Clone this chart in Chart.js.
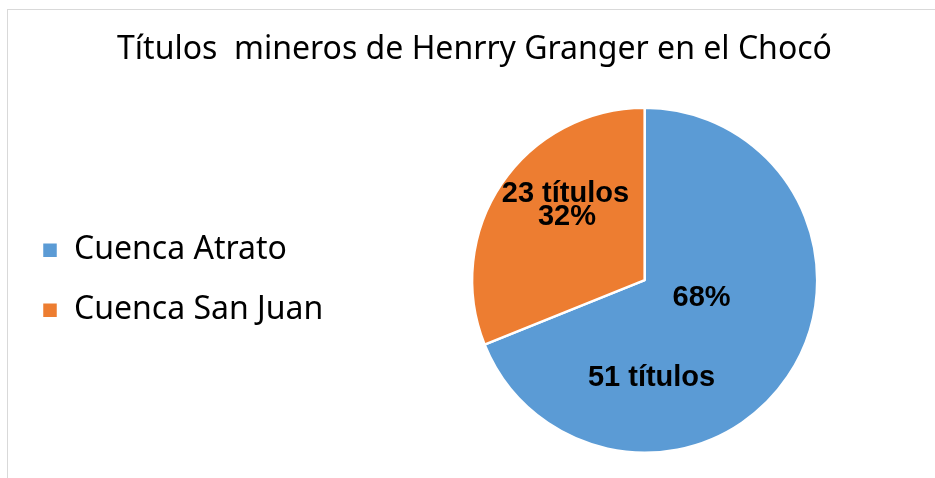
<!DOCTYPE html>
<html>
<head>
<meta charset="utf-8">
<script src="https://cdn.jsdelivr.net/npm/chart.js@4.4.1/dist/chart.umd.min.js"></script>
<style>
  body { margin: 0; background: #fff; }
  #marco { position: absolute; left: 7px; top: 9px; width: 940px; height: 480px; border-left: 1px solid #d9d9d9; border-top: 1px solid #d9d9d9; }
  #myChart_titulos { position: absolute; left: 0; top: 0; }
</style>
</head>
<body>
<div id="marco"></div>
<canvas id="myChart_titulos" width="935" height="478"></canvas>
<script>
// datos
const cuencas = ['Cuenca Atrato', 'Cuenca San Juan']
const titulos = [51, 23]
const porcentajes = [68, 32]   // como aparecen en las etiquetas
const colores = ['#5B9BD5', '#ED7D31']

// donde va cada etiqueta, en fracciones del radio desde el centro
const posEtiquetas = [
  [{ tipo: 'pct', dx: 0.33, dy: 0.105 }, { tipo: 'num', dx: 0.04, dy: 0.564 }],
  [{ tipo: 'num', dx: -0.459, dy: -0.5 }, { tipo: 'pct', dx: -0.45, dy: -0.366 }]
]

const etiquetas = {
  id: 'etiquetas',
  afterDatasetsDraw(chart) {
    const ctx = chart.ctx
    const meta = chart.getDatasetMeta(0)
    ctx.save()
    ctx.font = 'bold 29px "Liberation Sans", Arial, sans-serif'
    ctx.fillStyle = '#000'
    ctx.textAlign = 'center'
    ctx.textBaseline = 'middle'
    meta.data.forEach((arc, i) => {
      const p = arc.getProps(['x', 'y', 'outerRadius'], true)
      posEtiquetas[i].forEach(e => {
        const txt = e.tipo == 'pct' ? porcentajes[i] + '%' : titulos[i] + ' títulos'
        ctx.fillText(txt, p.x + e.dx * p.outerRadius, p.y + e.dy * p.outerRadius)
      })
    })
    ctx.restore()
  }
}

// deja un hueco entre la leyenda y el pastel
const hueco = {
  id: 'hueco',
  afterLayout(chart) {
    chart.chartArea.left += 21
    chart.chartArea.width -= 21
  }
}

const data_titulos = {
  labels: cuencas,
  datasets: [{
    label: 'Títulos mineros',
    data: titulos,
    backgroundColor: colores,
    borderColor: '#fff',
    borderWidth: 2.5
  }]
}

const config_titulos = {
  type: 'pie',
  data: data_titulos,
  plugins: [etiquetas, hueco],
  options: {
    responsive: false,
    animation: false,
    devicePixelRatio: 1,
    layout: { padding: { left: 14, right: 0, top: 0, bottom: 24 } },
    plugins: {
      title: {
        display: true,
        text: 'Títulos  mineros de Henrry Granger en el Chocó',
        color: '#000',
        font: { family: 'Noto Sans', size: 32, weight: 'normal' },
        padding: { top: 31, bottom: 37 }
      },
      legend: {
        position: 'left',
        fullSize: false,
        labels: {
          boxWidth: 16,
          boxHeight: 16,
          padding: 28,
          color: '#000',
          font: { family: 'Noto Sans', size: 32 }
        }
      },
      tooltip: { enabled: false }
    }
  }
}

const pieChart_titulos = new Chart(
  document.getElementById('myChart_titulos'),
  config_titulos
)
</script>
</body>
</html>
